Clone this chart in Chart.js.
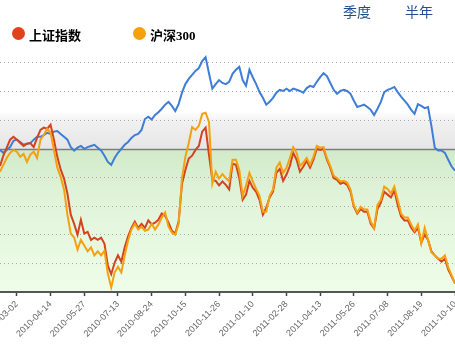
<!DOCTYPE html>
<html>
<head>
<meta charset="utf-8">
<script src="https://cdn.jsdelivr.net/npm/chart.js@4/dist/chart.umd.min.js"></script>
<style>
  body { margin: 0; background: #fff; }
  #wrap { position: relative; width: 455px; height: 350px; overflow: hidden; }
  #chart { position: absolute; left: 0; top: 0; }
  .legend { position: absolute; top: 25px; height: 18px; line-height: 18px; font: bold 13px "Liberation Serif", "Noto Sans CJK SC", serif; color: #000; }
  .legend i { position: absolute; left: -17px; top: 2px; width: 13px; height: 13px; border-radius: 50%; }
  .period { position: absolute; top: 1px; font: 14px "Noto Sans CJK SC", sans-serif; color: #1f4f8c; }
</style>
</head>
<body>
<div id="wrap">
  <canvas id="chart" width="455" height="350"></canvas>
  <div class="period" style="left:343px">季度</div>
  <div class="period" style="left:405px">半年</div>
  <div class="legend" style="left:29px"><i style="background:#df431c"></i>上证指数</div>
  <div class="legend" style="left:150px"><i style="background:#f6a00c"></i>沪深300</div>
</div>
<script>
// x tick labels, one every 10 points (points are 3 trading days apart)
const tickLabels = ['2010-03-02', '2010-04-14', '2010-05-27', '2010-07-13', '2010-08-24',
  '2010-10-15', '2010-11-26', '2011-01-10', '2011-02-28', '2011-04-13',
  '2011-05-26', '2011-07-08', '2011-08-19', '2011-10-10'];

// % change series
const shIndex = [
  -3.0, -1.2, 0.2, 1.6, 2.1, 1.6, 1.0, 0.5, 0.9, 1.0,
  0.3, 1.9, 3.3, 3.7, 3.5, 4.2, 1.6, -1.4, -3.6, -5.2,
  -7.8, -11.5, -13.1, -15.0, -12.4, -14.8, -14.5, -15.9, -15.5, -15.9,
  -15.5, -16.6, -20.4, -21.9, -19.9, -18.6, -19.7, -17.2, -15.3, -13.8,
  -12.7, -13.8, -13.1, -13.8, -12.5, -13.2, -12.9, -12.4, -11.3, -11.7,
  -12.9, -14.3, -14.8, -12.7, -6.1, -3.7, -1.7, -1.2, -0.2, 0.5,
  3.0, 3.7, -1.0, -5.4, -5.6, -6.4, -5.7, -6.3, -7.1, -2.6,
  -2.8, -5.1, -8.9, -8.0, -5.6, -6.8, -7.5, -8.9, -11.5, -10.3,
  -8.5, -7.5, -4.2, -3.5, -5.6, -4.5, -3.0, -0.7, -1.9, -4.0,
  -3.1, -2.1, -3.3, -1.9, 0.0, -0.2, 0.0, -1.9, -3.3, -5.1,
  -5.4, -6.1, -5.9, -6.3, -7.5, -10.1, -11.3, -10.5, -11.0, -11.0,
  -13.1, -13.9, -10.5, -9.4, -7.5, -8.0, -8.5, -7.3, -9.8, -11.8,
  -12.5, -12.5, -13.8, -14.6, -13.8, -16.4, -15.0, -15.9, -17.9, -18.6,
  -19.2, -19.7, -19.2, -21.1, -22.3, -23.5
];
const hs300 = [
  -4.0, -2.8, -1.6, -0.7, -0.2, -0.5, -1.4, -0.9, -2.3, -1.0,
  -0.5, -1.6, 1.6, 2.4, 3.5, 2.8, -0.2, -3.3, -4.9, -7.1,
  -11.5, -14.8, -15.5, -17.6, -15.9, -16.9, -17.9, -17.2, -18.6, -17.9,
  -18.6, -17.8, -21.8, -24.2, -21.6, -20.6, -21.6, -18.6, -16.0, -14.1,
  -13.1, -14.1, -13.6, -14.3, -14.1, -13.1, -14.1, -13.2, -12.0, -11.1,
  -13.6, -14.6, -15.0, -13.1, -5.1, -1.4, 1.0, 3.8, 3.3, 4.0,
  6.1, 6.3, 4.7, -6.1, -4.0, -5.2, -4.4, -5.1, -5.7, -1.9,
  -1.9, -3.7, -8.2, -6.4, -4.2, -5.7, -7.0, -8.2, -11.0, -11.0,
  -8.2, -7.1, -3.3, -2.4, -4.2, -3.3, -1.6, 0.3, -0.7, -3.0,
  -2.4, -1.6, -2.8, -1.4, 0.5, 0.2, 0.3, -1.6, -3.0, -4.7,
  -5.1, -5.7, -5.6, -5.9, -7.1, -9.9, -11.1, -10.1, -10.6, -10.6,
  -12.7, -13.8, -9.8, -8.9, -6.6, -7.0, -7.8, -6.6, -8.9, -11.3,
  -12.0, -12.0, -13.2, -14.3, -13.2, -16.5, -13.8, -15.9, -18.1, -18.6,
  -19.2, -19.2, -18.6, -20.7, -22.1, -23.5
];
const stock = [
  -0.2, -0.7, -0.2, 0.3, 1.4, 1.6, 1.2, 0.7, 0.9, 1.0,
  1.6, 2.1, 2.1, 2.4, 2.8, 2.6, 3.0, 3.1, 2.6, 2.1,
  1.6, 0.3, -0.3, 0.2, 0.5, 0.0, 0.3, 0.5, 0.7, 0.2,
  -0.3, -1.2, -2.3, -2.8, -1.6, -0.7, 0.0, 0.7, 1.2, 1.9,
  2.4, 2.6, 3.3, 5.2, 5.6, 5.1, 5.9, 6.4, 7.0, 7.7,
  8.2, 7.5, 6.6, 7.8, 9.8, 11.3, 12.2, 12.9, 13.6, 14.1,
  15.3, 16.0, 13.2, 10.5, 11.3, 12.0, 11.5, 11.3, 11.7, 13.1,
  13.8, 14.3, 12.0, 11.0, 13.8, 12.5, 11.3, 9.9, 8.9, 7.7,
  8.2, 8.9, 9.8, 10.3, 10.1, 10.5, 10.1, 10.5, 10.3, 10.1,
  9.8, 10.6, 11.0, 10.8, 11.7, 12.5, 13.2, 12.7, 11.5, 10.3,
  9.6, 10.1, 10.3, 10.1, 9.6, 8.4, 7.3, 7.5, 7.7, 7.3,
  6.8, 5.9, 7.0, 8.2, 9.9, 10.3, 10.5, 10.8, 9.9, 9.1,
  8.4, 7.7, 6.8, 6.1, 7.8, 7.5, 7.1, 7.3, 4.0, 0.2,
  -0.3, -0.3, -0.7, -1.9, -3.1, -3.8
];
const yTicks = [-25, -20, -15, -10, -5, 0, 5, 10, 15];

const labels = shIndex.map((_, i) => i);

// background bands + zero line
const bands = {
  id: 'bands',
  beforeDraw(chart) {
    const { ctx, chartArea: a, scales: { y } } = chart;
    const y0 = y.getPixelForValue(0);
    const y5 = y.getPixelForValue(6.5);
    let g = ctx.createLinearGradient(0, y5, 0, y0);
    g.addColorStop(0, 'rgba(238,238,238,0)');
    g.addColorStop(0.3, 'rgba(240,240,240,1)');
    g.addColorStop(1, 'rgba(230,230,230,1)');
    ctx.save();
    ctx.fillStyle = g;
    ctx.fillRect(a.left, y5, a.width, y0 - y5);
    g = ctx.createLinearGradient(0, y0, 0, a.bottom);
    g.addColorStop(0, '#d2eac9');
    g.addColorStop(0.35, '#e1f4da');
    g.addColorStop(1, '#eefde8');
    ctx.fillStyle = g;
    ctx.fillRect(a.left, y0, a.width, a.bottom - y0);
    ctx.restore();
  },
  beforeDatasetsDraw(chart) {
    const { ctx, chartArea: a, scales: { y } } = chart;
    const y0 = Math.round(y.getPixelForValue(0)) + 0.5;
    ctx.save();
    ctx.strokeStyle = '#7d7d7d';
    ctx.lineWidth = 1.5;
    ctx.beginPath();
    ctx.moveTo(a.left, y0);
    ctx.lineTo(a.right, y0);
    ctx.stroke();
    ctx.restore();
  }
};

new Chart(document.getElementById('chart'), {
  type: 'line',
  data: {
    labels,
    datasets: [
      { label: '上证指数', data: shIndex, borderColor: '#d4431f', order: 2 },
      { label: '沪深300', data: hs300, borderColor: '#f5a00f', order: 1 },
      { label: '个股', data: stock, borderColor: '#3f7dd6', order: 3 },
    ],
  },
  options: {
    responsive: false,
    animation: false,
    layout: { padding: { top: 48, left: 0, right: 0, bottom: 0 } },
    elements: {
      line: { borderWidth: 2, tension: 0 },
      point: { radius: 0 },
    },
    plugins: {
      legend: { display: false },
      tooltip: { enabled: false },
    },
    scales: {
      x: {
        type: 'linear',
        min: 0,
        max: 135,
        afterBuildTicks: s => { s.ticks = tickLabels.map((_, k) => ({ value: 5 + k * 10 })); },
        afterFit: s => { s.paddingLeft = 0; s.paddingRight = 0; s.height = 58; },
        grid: { drawOnChartArea: false, drawTicks: true, tickLength: 4, tickColor: '#444', tickWidth: 1.5 },
        border: { color: '#555', width: 2 },
        ticks: {
          autoSkip: false,
          minRotation: 45,
          maxRotation: 45,
          padding: 3,
          color: '#666',
          font: { size: 9, family: 'Liberation Sans, Arial, sans-serif' },
          callback: v => tickLabels[Math.round((v - 5) / 10)],
        },
      },
      y: {
        min: -25,
        max: 17.6,
        afterBuildTicks: s => { s.ticks = yTicks.map(v => ({ value: v })); },
        afterFit: s => { s.width = 0; },
        ticks: { display: false },
        border: { display: false, dash: [1, 3] },
        grid: {
          drawTicks: false,
          color: c => (c.tick.value === 0 || c.tick.value === -25) ? 'rgba(0,0,0,0)' : '#aaa',
          lineWidth: 1,
        },
      },
    },
  },
  plugins: [bands],
});
</script>
</body>
</html>
